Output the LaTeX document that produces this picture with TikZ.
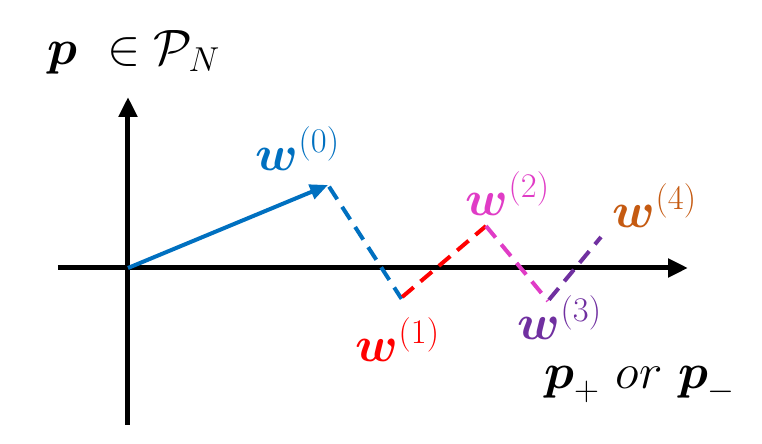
\documentclass[tikz,border=0pt]{standalone}
\usepackage{amsmath}
\usepackage{tikz}
\usetikzlibrary{arrows.meta}
\tikzset{every node/.style={font=\fontsize{26}{30}\selectfont}}
\colorlet{axiscol}{black}
\definecolor{w0col}{HTML}{0070C0}
\definecolor{w1col}{HTML}{FF0000}
\definecolor{w2col}{HTML}{E03CC6}
\definecolor{w3col}{HTML}{7030A0}
\definecolor{w4col}{HTML}{C55A11}
\tikzset{
  stepline/.style={line width=2pt, dash pattern=on 7.5pt off 4.5pt},
}

\begin{document}
\begin{tikzpicture}[x=5pt, y=5pt, >=Triangle]

  % Frame of the picture.
  \useasboundingbox (-12.8,-17.6) rectangle (63.4,26.8);

  % Axes.
  \draw[-{Triangle[length=10pt,width=9pt]}, line width=2.5pt, axiscol] (-7,0) -- (56,0);
  \draw[-{Triangle[length=10pt,width=9pt]}, line width=2.5pt, axiscol] (0,-15.7) -- (0,17.1);

  % Axis labels.
  \node (ylab) at (0.6,21.6) {$\boldsymbol{p}\ \in \mathcal{P}_N$};
  \node (xlab) at (51.2,-11.7) {$\boldsymbol{p}_{+}\ or\ \boldsymbol{p}_{-}$};

  % Iterates.
  \coordinate (o) at (0,0);
  \coordinate (w0) at (20,8.3);
  \coordinate (w1) at (27.3,-3.0);
  \coordinate (w2) at (35.8,4.2);
  \coordinate (w3) at (42.0,-3.3);
  \coordinate (w4) at (47.3,3.1);

  % Steps between iterates.
  \draw[-{Triangle[length=9pt,width=7.5pt]}, line width=2pt, w0col] (o) -- (w0);
  \draw[stepline, w0col, shorten <=1pt, shorten >=-0.5pt] (w0) -- (w1);
  \draw[stepline, w1col, shorten <=0.8pt] (w1) -- (w2);
  \draw[stepline, w2col] (w2) -- (w3);
  \draw[stepline, w3col, shorten <=0.8pt] (w3) -- (w4);

  % Iterate labels.
  \node[text=w0col] (l0) at (17,11.9) {$\boldsymbol{w}^{(0)}$};
  \node[text=w1col] (l1) at (27,-7.2) {$\boldsymbol{w}^{(1)}$};
  \node[text=w2col] (l2) at (38,7.4) {$\boldsymbol{w}^{(2)}$};
  \node[text=w3col] (l3) at (43.2,-5) {$\boldsymbol{w}^{(3)}$};
  \node[text=w4col] (l4) at (52.7,6.2) {$\boldsymbol{w}^{(4)}$};

\end{tikzpicture}
\end{document}
